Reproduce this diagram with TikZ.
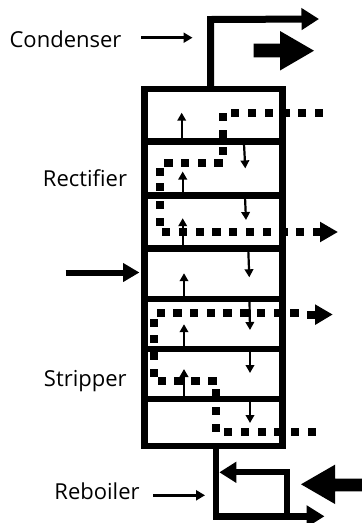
\documentclass[tikz,border=0pt]{standalone}
\usepackage{fontspec}
\setmainfont{Open Sans}
\usetikzlibrary{arrows.meta}
\tikzset{
  wall/.style={line width=6.7pt,line cap=butt},
  thinarrow/.style={line width=2.2pt,-{Triangle[length=8pt,width=8.5pt]}},
  medarrow/.style={line width=2.7pt,-{Triangle[length=9pt,width=10pt]}},
  label/.style={font=\fontsize{22}{24}\selectfont,inner sep=0pt,anchor=base},
}
\newcommand{\dotsq}[2]{\fill (#1-4.2,#2-3.9) rectangle (#1+4.2,#2+3.9);}
\begin{document}
\begin{tikzpicture}[x=1pt,y=-1pt]
\useasboundingbox (0,0) rectangle (362,523);
\fill[white] (0,0) rectangle (362,523);
% column
\draw[wall] (144.2,89) rectangle (282.5,446);
\foreach \y in {141.5,195.3,248.3,299,349,399}
  \draw[wall] (144.2,\y) -- (282.5,\y);
% overhead
\coordinate (topout) at (210.7,86);
\coordinate (topcorner) at (210.7,19.5);
\coordinate (topend) at (319,19);
\draw[line width=7pt,-{Triangle[length=17.5pt,width=21pt]}] (topout) -- (topcorner) -- (topend);
% big arrows
\fill (253.7,43.6) -- (280,43.6) -- (280,31) -- (314,50.7) -- (280,70.5) -- (280,57.4) -- (253.7,57.4) -- cycle;
\fill (362,478.7) -- (335,478.7) -- (335,464.7) -- (301,484.3) -- (335,504) -- (335,491.3) -- (362,491.3) -- cycle;
% label arrows
\draw[medarrow] (141,37.7) -- (192.5,37.7);
\draw[medarrow] (153.3,495.3) -- (205,495.3);
\draw[line width=6pt,-{Triangle[length=16.5pt,width=18pt]}] (65.7,272.5) -- (139.5,272.5);
% vapour
\draw[thinarrow] (181.7,139) -- (181.7,112.7);
\draw[thinarrow] (182.7,193) -- (182.7,171.5);
\draw[thinarrow] (182.7,246) -- (182.7,218.2);
\draw[thinarrow] (184,297) -- (184,273.2);
\draw[thinarrow] (184,347) -- (184,324.2);
\draw[thinarrow] (184,397) -- (184,369);
% liquid
\draw[thinarrow] (244,144) -- (245.3,168.4);
\draw[thinarrow] (245,197) -- (246,220);
\draw[thinarrow] (248.3,250) -- (249.3,277.3);
\draw[thinarrow] (249.5,301) -- (250,330);
\draw[thinarrow] (250,351) -- (250,373);
\draw[thinarrow] (250,401) -- (250,423);
% dotted streams
\foreach \x in {235,251.7,269,285.7,302,319} {\dotsq{\x}{113}}
\foreach \y in {116.7,134,150.7} {\dotsq{222.7}{\y}}
\foreach \x in {218.3,201.7,185,168.3} {\dotsq{\x}{163}}
\foreach \y in {171.7,187.3,204.7,221.7} {\dotsq{160}{\y}}
\foreach \x in {166,182.7,199.7,216.3,233,250,266.7,283.3,300} {\dotsq{\x}{232}}
\fill (313,228) rectangle (320,236);
\fill (320,221.7) -- (337.7,232) -- (320,242.3) -- cycle;
\foreach \x in {160.7,177.3,194,210.7,227.3,244.3,261,277.7,294.3} {\dotsq{\x}{313}}
\fill (307,310.5) rectangle (315,318.5);
\fill (315,304.3) -- (332.5,314.5) -- (315,325) -- cycle;
\foreach \y in {322.7,339.3,356.3,373} {\dotsq{154}{\y}}
\foreach \x in {161.7,178.3,195.3,212.3} {\dotsq{\x}{381.3}}
\foreach \y in {393,411,428} {\dotsq{216}{\y}}
\foreach \x in {227.7,245,261.7,278.3,295,311.7} {\dotsq{\x}{432.3}}
% reboiler
\coordinate (botout) at (216,449);
\coordinate (botcorner) at (216,516.3);
\coordinate (botend) at (324.5,516.3);
\draw[line width=6.7pt,-{Triangle[length=18pt,width=21pt]}] (botout) -- (botcorner) -- (botend);
\coordinate (retstart) at (286.7,516.3);
\coordinate (retcorner) at (286.7,472.3);
\coordinate (retend) at (219.3,472.3);
\draw[line width=6pt,-{Triangle[length=17pt,width=20pt]}] (retstart) -- (retcorner) -- (retend);
% labels
\node[label] (cond) at (65.5,47.5) {Condenser};
\node[label] (rect) at (85,186) {Rectifier};
\node[label] (strip) at (85.3,386.5) {Stripper};
\node[label] (reb) at (97,499) {Reboiler};
\end{tikzpicture}
\end{document}
